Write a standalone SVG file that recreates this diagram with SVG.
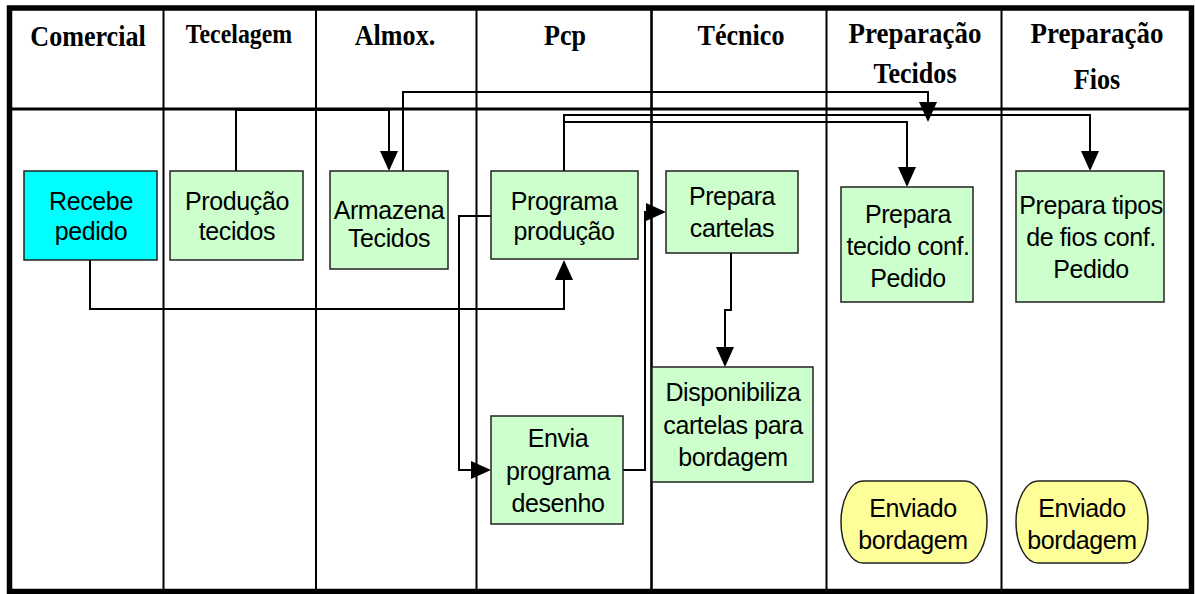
<svg xmlns="http://www.w3.org/2000/svg" width="1195" height="594" viewBox="0 0 1195 594">
<style>
.hdr{font-family:"Liberation Serif","Times New Roman",serif;font-weight:bold;font-size:29px;fill:#000;text-anchor:middle}
.lane{stroke:#000;stroke-width:2;fill:none}
.box{fill:#CCFFCC;stroke:#222;stroke-width:1.5}
.start{fill:#00FFFF;stroke:#222;stroke-width:1.5}
.end{fill:#FFFF99;stroke:#222;stroke-width:1.5}
.lbl{font-family:"Liberation Sans",Arial,sans-serif;font-size:25px;letter-spacing:-0.4px;fill:#000;text-anchor:middle}
.con{stroke:#000;stroke-width:2;fill:none}
</style>
<defs>
<marker id="arr" markerUnits="userSpaceOnUse" markerWidth="20" markerHeight="18" refX="16" refY="9" orient="auto">
<path d="M0,0 L20,9 L0,18 z" fill="#000"/>
</marker>
</defs>
<rect width="1195" height="594" fill="#fff"/>
<g id="lanes">
<line class="lane" x1="163.5" y1="8" x2="163.5" y2="591"/>
<line class="lane" x1="316" y1="8" x2="316" y2="591"/>
<line class="lane" x1="476.5" y1="8" x2="476.5" y2="591"/>
<line class="lane" x1="651.5" y1="8" x2="651.5" y2="591" style="stroke-width:2.6"/>
<line class="lane" x1="826.5" y1="8" x2="826.5" y2="591"/>
<line class="lane" x1="1001.5" y1="8" x2="1001.5" y2="591"/>
<line class="lane" x1="9" y1="109" x2="1191" y2="109" style="stroke-width:3"/>
<rect x="9.5" y="8" width="1182" height="583.5" fill="none" stroke="#000" stroke-width="5.5"/>
<text class="hdr" transform="translate(88,46) scale(0.9,1)">Comercial</text>
<text class="hdr" transform="translate(239,43) scale(0.9,1)" style="font-size:26.5px">Tecelagem</text>
<text class="hdr" transform="translate(395,45) scale(0.9,1)">Almox.</text>
<text class="hdr" transform="translate(565,45) scale(0.9,1)">Pcp</text>
<text class="hdr" transform="translate(741,45) scale(0.9,1)">Técnico</text>
<text class="hdr" transform="translate(915,43) scale(0.93,1)">Preparação</text>
<text class="hdr" transform="translate(915,83) scale(0.9,1)">Tecidos</text>
<text class="hdr" transform="translate(1097,43) scale(0.93,1)">Preparação</text>
<text class="hdr" transform="translate(1097,89) scale(0.9,1)">Fios</text>
</g>
<g id="connectors">
<path class="con" d="M236,171 V110 H389 V167" marker-end="url(#arr)"/>
<path class="con" d="M403,171 V92 H928 V118" marker-end="url(#arr)"/>
<path class="con" d="M564,171 V115 H1090 V167" marker-end="url(#arr)"/>
<path class="con" d="M564,122 H907 V183" marker-end="url(#arr)"/>
<path class="con" d="M90,260 V309 H564 V264" marker-end="url(#arr)"/>
<path class="con" d="M491,216 H459 V470 H487" marker-end="url(#arr)"/>
<path class="con" d="M623,470 H645 V212 H662" marker-end="url(#arr)"/>
<path class="con" d="M731,253 V310 H725 V363" marker-end="url(#arr)"/>
</g>
<g id="n-recebe">
<rect class="start" x="24" y="171" width="133" height="89"/>
<text class="lbl" x="91" y="210">Recebe</text>
<text class="lbl" x="91" y="240">pedido</text>
</g>
<g id="n-producao">
<rect class="box" x="170" y="171" width="133" height="89"/>
<text class="lbl" x="237" y="210">Produção</text>
<text class="lbl" x="237" y="240">tecidos</text>
</g>
<g id="n-armazena">
<rect class="box" x="330" y="171" width="118" height="98"/>
<text class="lbl" x="389" y="219">Armazena</text>
<text class="lbl" x="389" y="247">Tecidos</text>
</g>
<g id="n-programa">
<rect class="box" x="491" y="171" width="147" height="88"/>
<text class="lbl" x="564" y="210">Programa</text>
<text class="lbl" x="564" y="240">produção</text>
</g>
<g id="n-cartelas">
<rect class="box" x="666" y="171" width="132" height="82"/>
<text class="lbl" x="732" y="205">Prepara</text>
<text class="lbl" x="732" y="237">cartelas</text>
</g>
<g id="n-tecido">
<rect class="box" x="841" y="187" width="132" height="115"/>
<text class="lbl" x="908" y="223">Prepara</text>
<text class="lbl" x="908" y="255">tecido conf.</text>
<text class="lbl" x="908" y="287">Pedido</text>
</g>
<g id="n-fios">
<rect class="box" x="1016" y="171" width="148" height="131"/>
<text class="lbl" x="1091" y="214">Prepara tipos</text>
<text class="lbl" x="1091" y="246">de fios conf.</text>
<text class="lbl" x="1091" y="278">Pedido</text>
</g>
<g id="n-envia">
<rect class="box" x="491" y="416" width="132" height="108"/>
<text class="lbl" x="558" y="447">Envia</text>
<text class="lbl" x="558" y="480">programa</text>
<text class="lbl" x="558" y="512">desenho</text>
</g>
<g id="n-disponibiliza">
<rect class="box" x="652" y="367" width="161" height="115"/>
<text class="lbl" x="733" y="401">Disponibiliza</text>
<text class="lbl" x="733" y="434">cartelas para</text>
<text class="lbl" x="733" y="466">bordagem</text>
</g>
<g id="n-enviado1">
<rect class="end" x="841" y="481" width="146" height="82" rx="22" ry="41"/>
<text class="lbl" x="913" y="517">Enviado</text>
<text class="lbl" x="913" y="549">bordagem</text>
</g>
<g id="n-enviado2">
<rect class="end" x="1016" y="481" width="132" height="82" rx="22" ry="41"/>
<text class="lbl" x="1082" y="517">Enviado</text>
<text class="lbl" x="1082" y="549">bordagem</text>
</g>
</svg>
